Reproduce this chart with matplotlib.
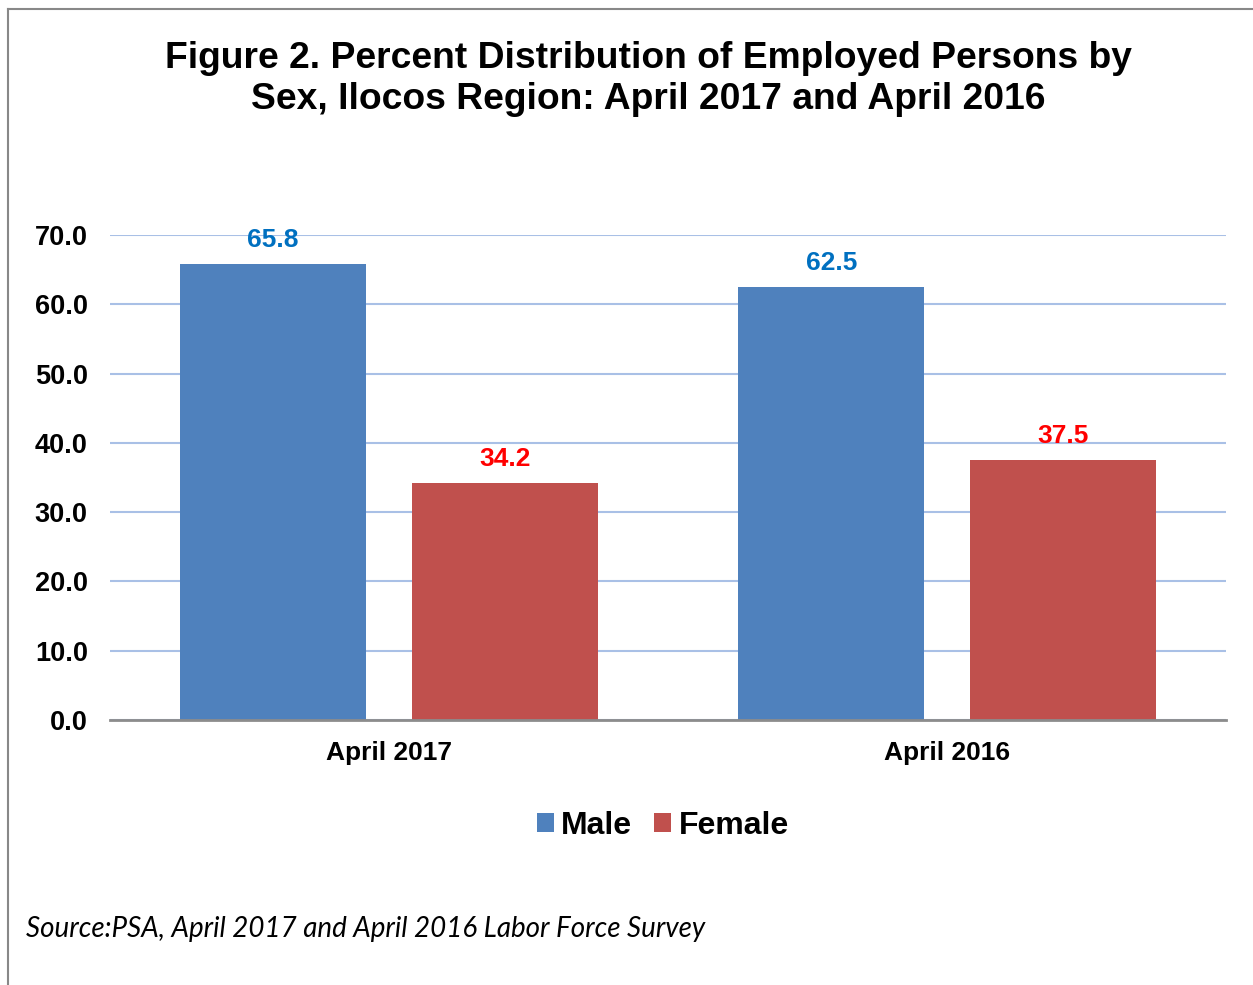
import matplotlib.pyplot as plt
from matplotlib.lines import Line2D
import numpy as np

# Data
periods = ["April 2017", "April 2016"]
male = [65.8, 62.5]
female = [34.2, 37.5]
y_ticks = [0, 10, 20, 30, 40, 50, 60, 70]

plt.rcParams["font.family"] = ["Liberation Sans", "DejaVu Sans"]

fig = plt.figure(figsize=(12.53, 9.85), dpi=100)
ax = fig.add_axes([110 / 1253, 265 / 985, 1116 / 1253, 485 / 985])

x = np.arange(len(periods))
w = 0.333
off = 0.2075
ax.bar(x - off, male, width=w, color="#4F81BD", zorder=3, label="Male")
ax.bar(x + off, female, width=w, color="#C0504D", zorder=3, label="Female")

for xi, v in zip(x, male):
    ax.text(xi - off, v + 1.7, f"{v:.1f}", ha="center", va="bottom",
            fontsize=19, fontweight="bold", color="#0070C0")
for xi, v in zip(x, female):
    ax.text(xi + off, v + 1.7, f"{v:.1f}", ha="center", va="bottom",
            fontsize=19, fontweight="bold", color="#FF0000")

# Format axes
ax.set_xlim(-0.5, 1.5)
ax.set_ylim(0, 70)
ax.set_yticks(y_ticks)
ax.set_yticklabels([f"{t:.1f}" for t in y_ticks], fontsize=19.5, fontweight="bold")
ax.set_xticks(x)
ax.set_xticklabels(periods, fontsize=19, fontweight="bold")
ax.tick_params(axis="both", length=0)
ax.tick_params(axis="y", pad=16)
ax.tick_params(axis="x", pad=15)
ax.grid(axis="y", color="#A9C0E6", linewidth=1.5, zorder=0)
for s in ["top", "right", "left"]:
    ax.spines[s].set_visible(False)
ax.spines["bottom"].set_color("#8C8C8C")
ax.spines["bottom"].set_linewidth(2)
ax.spines["bottom"].set_zorder(4)

fig.text(0.5175, 1 - 79 / 985, "Figure 2. Percent Distribution of Employed Persons by\nSex, Ilocos Region: April 2017 and April 2016",
         ha="center", va="center", fontsize=26.8, fontweight="bold", linespacing=1.22)

leg = fig.legend(loc="center", bbox_to_anchor=(663 / 1253, 1 - 826 / 985), frameon=False,
                 ncol=2, prop={"size": 23, "weight": "bold"},
                 handlelength=0.53, handleheight=0.53, handletextpad=0.22, columnspacing=0.69)

fig.text(26 / 1253, 1 - 929 / 985, "Source:PSA, April 2017 and April 2016 Labor Force Survey",
         ha="left", va="center", fontsize=20, fontstyle="italic", family=["Lato", "DejaVu Sans"])

# Outer frame (left and top edges visible)
fig.add_artist(Line2D([7.5 / 1253, 7.5 / 1253], [0, 1 - 8.5 / 985], color="#888888", lw=1.5))
fig.add_artist(Line2D([7.5 / 1253, 1], [1 - 8.5 / 985, 1 - 8.5 / 985], color="#888888", lw=1.5))

fig.savefig("out.png", dpi=100)
